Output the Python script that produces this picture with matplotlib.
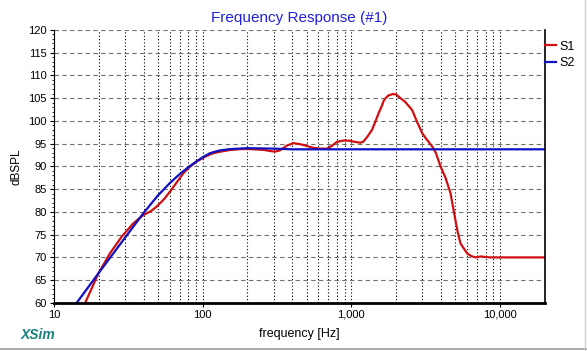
import matplotlib
matplotlib.use("Agg")
import matplotlib.pyplot as plt
from matplotlib.lines import Line2D
from matplotlib.ticker import FixedLocator, LogLocator, MultipleLocator
import numpy as np

plt.rcParams['font.family'] = ['Liberation Sans', 'DejaVu Sans']

s1_freq = [16.2, 19.9, 23.8, 28.6, 34.2, 39.9, 45, 49.2, 55, 60.4, 67, 74.2, 82, 91.4,
           105, 118, 130, 153, 180, 209, 260, 280, 307, 330, 370, 409, 450, 500, 550,
           618, 685, 740, 801, 900, 985, 1050, 1148, 1200, 1260, 1300, 1377, 1450, 1527,
           1600, 1651, 1700, 1780, 1910, 2000, 2138, 2300, 2563, 2750, 2995, 3200, 3494,
           3700, 3981, 4300, 4648, 5013, 5200, 5420, 5700, 6010, 6400, 6837, 7396, 8630,
           10000, 20000]
s1_db = [60.0, 66.5, 70.9, 74.6, 77.5, 79.3, 80.2, 81.2, 82.8, 84.5, 86.5, 88.5, 89.9, 91.1,
         92.2, 92.9, 93.2, 93.6, 93.8, 93.8, 93.6, 93.4, 93.25, 93.5, 94.6, 95.1, 94.9, 94.5, 94.1,
         93.9, 93.9, 94.5, 95.4, 95.7, 95.6, 95.4, 95.2, 95.4, 96.2, 96.8, 98.0, 99.8, 101.7,
         103.2, 104.4, 105.0, 105.6, 105.9, 105.8, 105.0, 104.2, 102.4, 100.0, 97.3, 96.0, 94.4,
         93.0, 90.0, 87.5, 84.1, 78.2, 75.5, 73.1, 72.0, 70.9, 70.3, 70.0, 70.2, 70.0,
         70.0, 70.0]

# S2 (blue) - target response
s2_freq = [14.2, 19.9, 30, 39.9, 50, 60, 70, 80, 90, 100, 112, 130, 153, 200, 300, 400, 20000]
s2_db = [60.0, 66.5, 74.3, 79.7, 83.6, 86.3, 88.3, 89.8, 91.0, 92.0, 92.9, 93.5, 93.8,
         94.0, 93.9, 93.75, 93.75]

x_ticks = [10, 100, 1000, 10000]
x_ticklabels = ['10', '100', '1,000', '10,000']

fig = plt.figure(figsize=(5.87, 3.51), dpi=100)
ax = fig.add_axes([0.092, 0.137, 0.836, 0.778])

ax.plot(s1_freq, s1_db, color='#d01010', lw=1.6, label='S1')
ax.plot(s2_freq, s2_db, color='#1010c0', lw=1.6, label='S2')

ax.set_xscale('log')
ax.set_xlim(10, 20000)
ax.set_ylim(60, 120)

ax.xaxis.set_major_locator(FixedLocator(x_ticks))
ax.set_xticklabels(x_ticklabels)
ax.xaxis.set_minor_locator(LogLocator(base=10, subs=np.arange(2, 10)))
ax.yaxis.set_major_locator(MultipleLocator(5))
ax.yaxis.set_minor_locator(MultipleLocator(1))

ax.grid(True, which='both', axis='x', color='black', ls=(0, (1, 2)), lw=0.8)
ax.grid(True, which='major', axis='y', color='#707070', ls=(0, (4, 3)), lw=0.8)

ax.tick_params(axis='both', labelsize=8, length=3, width=0.8, pad=2)
ax.tick_params(axis='y', which='minor', length=1.5)
ax.tick_params(axis='x', which='minor', length=0)

ax.spines['top'].set_visible(False)
ax.spines['left'].set_linewidth(0.8)
ax.spines['right'].set_linewidth(1.2)
ax.spines['bottom'].set_linewidth(2)

ax.set_title('Frequency Response (#1)', color='#2020e0', fontsize=11, pad=6)
ax.set_xlabel('frequency [Hz]', fontsize=9, labelpad=6)
ax.set_ylabel('dBSPL', fontsize=8.5, labelpad=4)

ax.legend(loc='upper left', bbox_to_anchor=(1.0, 0.96), frameon=False, fontsize=9,
          handlelength=0.9, handletextpad=0.3, borderaxespad=0, borderpad=0,
          labelspacing=0.35)

fig.text(0.035, 0.035, 'XSim', color='#1a8080', fontsize=10, fontweight='bold',
         style='italic')

# light window border lines
fig.add_artist(Line2D([0, 1], [0.006, 0.006], color='#a0a0a0', lw=1.2))
fig.add_artist(Line2D([0.997, 0.997], [0, 1], color='#d0d0d0', lw=1.0))

fig.savefig('out.png', dpi=100)
